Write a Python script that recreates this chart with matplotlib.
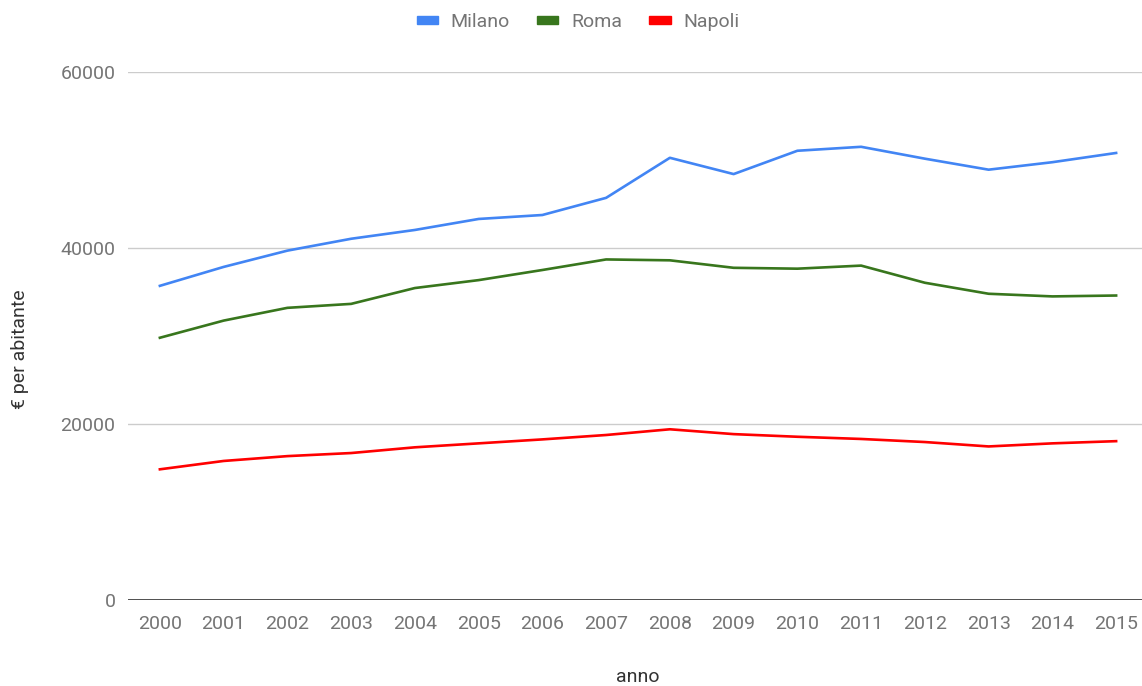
import matplotlib
matplotlib.use('Agg')
import matplotlib.pyplot as plt
from matplotlib.patches import Patch

# dati: € per abitante
anni = list(range(2000, 2016))
milano = [35700, 37850, 39700, 41050, 42050, 43300, 43750, 45700,
          50250, 48400, 51050, 51500, 50150, 48900, 49750, 50800]
roma = [29800, 31750, 33200, 33650, 35450, 36350, 37500, 38700,
        38600, 37750, 37650, 38000, 36050, 34800, 34500, 34600]
napoli = [14850, 15800, 16350, 16700, 17350, 17800, 18250, 18750,
          19400, 18850, 18550, 18300, 17950, 17450, 17800, 18050]

serie = [("Milano", milano, "#4285F4"),
         ("Roma", roma, "#38761D"),
         ("Napoli", napoli, "#FF0000")]

plt.rcParams['font.family'] = ['Roboto', 'DejaVu Sans']
FS = 14

W, H = 1142, 686
fig = plt.figure(figsize=(W / 100, H / 100), dpi=100)
ax = fig.add_axes([128 / W, 1 - 600 / H, (1148 - 128) / W, (600 - 72) / H])

for nome, valori, colore in serie:
    ax.plot(anni, valori, color=colore, linewidth=1.9, solid_joinstyle='round',
            zorder=3, label=nome)

ax.set_xlim(1999.5, 2015.5)
ax.set_ylim(0, 60000)
ax.set_yticks([0, 20000, 40000, 60000])
ax.set_xticks(anni)
ax.set_xticklabels([str(a) for a in anni])

ax.grid(True, axis='y', color='#cccccc', linewidth=1.0, zorder=0)
ax.axhline(0, color='#333333', linewidth=1.2, zorder=2)
for s in ax.spines.values():
    s.set_visible(False)
ax.tick_params(axis='both', length=0, labelsize=FS, labelcolor='#757575')
ax.tick_params(axis='y', pad=9)
ax.tick_params(axis='x', pad=11)

fig.text(20 / W, 1 - 349 / H, "€ per abitante", rotation=90, ha='center',
         va='center', fontsize=FS, color='#333333')
fig.text(638 / W, 1 - 677 / H, "anno", ha='center', va='center',
         fontsize=FS, color='#333333')

handles = [Patch(facecolor=c, edgecolor=c, label=n) for n, _, c in serie]
fig.legend(handles=handles, loc='center', ncol=3, frameon=False,
           bbox_to_anchor=(578 / W, 1 - 22 / H), fontsize=FS,
           labelcolor='#757575', handlelength=1.1, handleheight=0.3,
           handletextpad=0.65, columnspacing=1.4)

fig.savefig('out.png', dpi=100, facecolor='white')
